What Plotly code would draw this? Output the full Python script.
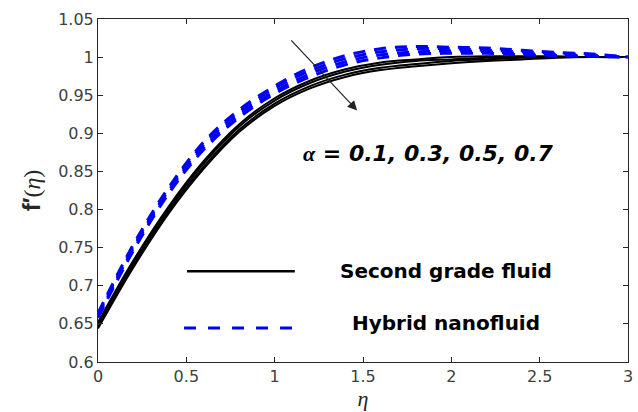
import plotly.graph_objects as go

eta = [0, 0.2, 0.4, 0.6, 0.8, 1.0, 1.2, 1.4, 1.6, 1.8, 2.0, 2.2, 2.4, 2.6, 2.8, 3.0]

# Second grade fluid, alpha = 0.1, 0.3, 0.5, 0.7
sg_a01 = [0.652, 0.733, 0.804, 0.864, 0.912, 0.946, 0.969, 0.984, 0.993, 0.997, 1.000, 1.001, 1.001, 1.001, 1.000, 1.000]
sg_a03 = [0.650, 0.730, 0.801, 0.861, 0.909, 0.943, 0.966, 0.981, 0.990, 0.995, 0.997, 0.999, 1.000, 1.000, 1.000, 1.000]
sg_a05 = [0.646, 0.727, 0.798, 0.857, 0.905, 0.939, 0.962, 0.977, 0.986, 0.991, 0.995, 0.997, 0.999, 1.000, 1.000, 1.000]
sg_a07 = [0.644, 0.724, 0.795, 0.854, 0.902, 0.936, 0.959, 0.974, 0.983, 0.988, 0.992, 0.995, 0.997, 0.999, 1.000, 1.000]

# Hybrid nanofluid, alpha = 0.1, 0.3, 0.5, 0.7
hn_a01 = [0.664, 0.754, 0.829, 0.889, 0.931, 0.962, 0.986, 1.002, 1.011, 1.014, 1.013, 1.012, 1.009, 1.006, 1.004, 1.000]
hn_a03 = [0.662, 0.751, 0.826, 0.886, 0.928, 0.959, 0.982, 0.998, 1.007, 1.011, 1.011, 1.009, 1.007, 1.005, 1.003, 1.000]
hn_a05 = [0.660, 0.749, 0.824, 0.882, 0.924, 0.955, 0.978, 0.994, 1.003, 1.007, 1.008, 1.007, 1.005, 1.003, 1.002, 1.000]
hn_a07 = [0.658, 0.746, 0.821, 0.879, 0.921, 0.952, 0.974, 0.990, 0.999, 1.004, 1.005, 1.005, 1.003, 1.002, 1.001, 1.000]

x_ticks = [0, 0.5, 1, 1.5, 2, 2.5, 3]
x_ticklabels = ["0", "0.5", "1", "1.5", "2", "2.5", "3"]
y_ticks = [0.6, 0.65, 0.7, 0.75, 0.8, 0.85, 0.9, 0.95, 1.0, 1.05]
y_ticklabels = ["0.6", "0.65", "0.7", "0.75", "0.8", "0.85", "0.9", "0.95", "1", "1.05"]

legend_names = ["Second grade fluid", "Hybrid nanofluid"]

fig = go.Figure()
for ys in [sg_a01, sg_a03, sg_a05, sg_a07]:
    fig.add_trace(go.Scatter(x=eta, y=ys, mode="lines", line=dict(color="black", width=2, shape="spline"),
                             showlegend=False, hoverinfo="skip"))
for ys in [hn_a01, hn_a03, hn_a05, hn_a07]:
    fig.add_trace(go.Scatter(x=eta, y=ys, mode="lines", line=dict(color="#0000ff", width=3, shape="spline", dash="12px,9px"),
                             showlegend=False, hoverinfo="skip"))

axis_color = "#262626"
tick_font = dict(family="DejaVu Sans", size=16, color="#404040")

fig.update_layout(
    width=638, height=412,
    margin=dict(l=98, r=5, t=19, b=50),
    paper_bgcolor="white", plot_bgcolor="white",
    showlegend=False,
    xaxis=dict(range=[0, 3], tickvals=x_ticks, ticktext=x_ticklabels, ticks="inside", ticklen=5,
               tickcolor=axis_color, showline=True, linecolor=axis_color, linewidth=1, mirror="ticks",
               showgrid=False, zeroline=False, tickfont=tick_font, ticklabeloverflow="allow",
               title=dict(text="<i>η</i>", font=dict(family="Liberation Serif", size=22, color="#262626"), standoff=2)),
    yaxis=dict(range=[0.6, 1.05], tickvals=y_ticks, ticktext=y_ticklabels, ticks="inside", ticklen=5,
               tickcolor=axis_color, showline=True, linecolor=axis_color, linewidth=1, mirror="ticks",
               showgrid=False, zeroline=False, tickfont=tick_font, ticklabeloverflow="allow",
               title=dict(text="<span style='font-family:Liberation Sans'><b>f′</b></span>(<i>η</i>)",
                          font=dict(family="Liberation Serif", size=24, color="#262626"), standoff=10)),
)

# legend drawn inside plot
fig.add_shape(type="line", xref="x", yref="y", x0=0.504, x1=1.114, y0=0.719, y1=0.719,
              line=dict(color="black", width=2.5))
fig.add_shape(type="line", xref="x", yref="y", x0=0.487, x1=1.114, y0=0.6445, y1=0.6445,
              line=dict(color="#0000ff", width=3, dash="12px,12px"))
legend_font = dict(family="DejaVu Sans", size=20, color="black")
fig.add_annotation(x=1.97, y=0.719, xref="x", yref="y", text="<b>" + legend_names[0] + "</b>",
                   showarrow=False, font=legend_font, xanchor="center", yanchor="middle")
fig.add_annotation(x=1.97, y=0.651, xref="x", yref="y", text="<b>" + legend_names[1] + "</b>",
                   showarrow=False, font=legend_font, xanchor="center", yanchor="middle")

# alpha annotation
fig.add_annotation(x=1.87, y=0.8736, xref="x", yref="y",
                   text="<b><i><span style='font-family:Liberation Serif'>α</span> = 0.1, 0.3, 0.5, 0.7</i></b>",
                   showarrow=False, font=dict(family="DejaVu Sans", size=22, color="black"),
                   xanchor="center", yanchor="middle")
fig.add_annotation(x=1.467, y=0.930, ax=1.086, ay=1.024, xref="x", yref="y", axref="x", ayref="y",
                   text="", showarrow=True, arrowhead=2, arrowsize=1.6, arrowwidth=1.2, arrowcolor="#222")

fig.write_html("out.html")
